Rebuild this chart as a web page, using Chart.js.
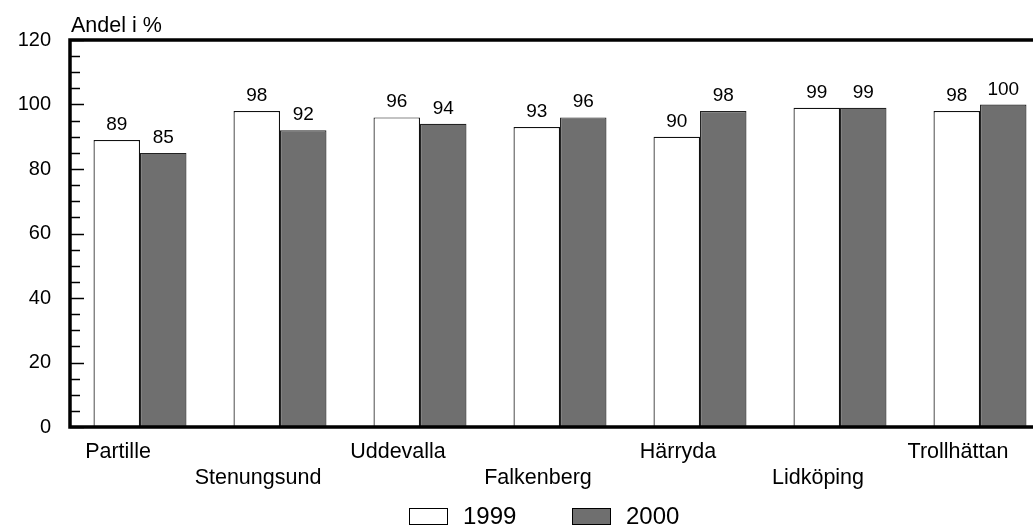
<!DOCTYPE html>
<html>
<head>
<meta charset="utf-8">
<script src="https://cdn.jsdelivr.net/npm/chart.js@4"></script>
<style>
  html, body { margin: 0; padding: 0; background: #fff; overflow: hidden; }
  #wrap { width: 1060px; height: 526px; }
</style>
</head>
<body>
<div id="wrap"><canvas id="c" width="1060" height="526"></canvas></div>
<script>
// Kommuner och andel (%) för respektive år
const kommuner = ['Partille', 'Stenungsund', 'Uddevalla', 'Falkenberg', 'Härryda', 'Lidköping', 'Trollhättan'];
const andel1999 = [89, 98, 96, 93, 90, 99, 98];
const andel2000 = [85, 92, 94, 96, 98, 99, 100];
const yTicks = [0, 20, 40, 60, 80, 100, 120];
const yTitel = 'Andel i %';

const FONT = '"Liberation Sans", Arial, sans-serif';

// Alternate category names between two rows
const xLabels = kommuner.map((k, i) => (i % 2 === 0 ? [k, ''] : ['', k]));

// Frame, inward tick marks, axis title and value labels
const decor = {
  id: 'decor',
  afterDatasetsDraw(chart) {
    const { ctx, chartArea: a, scales: { y } } = chart;
    ctx.save();
    // value labels above each bar
    ctx.fillStyle = '#000';
    ctx.font = '19px ' + FONT;
    ctx.textAlign = 'center';
    ctx.textBaseline = 'alphabetic';
    chart.data.datasets.forEach((ds, di) => {
      chart.getDatasetMeta(di).data.forEach((bar, i) => {
        ctx.fillText(String(ds.data[i]), bar.x, bar.y - 10);
      });
    });
    // inward ticks on the value axis
    ctx.strokeStyle = '#000';
    ctx.lineWidth = 1.5;
    for (let v = y.min; v <= y.max; v += 5) {
      const py = Math.round(y.getPixelForValue(v)) + 0.5;
      const len = v % 20 === 0 ? 14 : 10;
      ctx.beginPath();
      ctx.moveTo(a.left, py);
      ctx.lineTo(a.left + len, py);
      ctx.stroke();
    }
    // heavy frame
    ctx.lineWidth = 3.5;
    ctx.lineCap = 'square';
    ctx.beginPath();
    ctx.moveTo(a.right, a.top);
    ctx.lineTo(a.left, a.top);
    ctx.lineTo(a.left, a.bottom);
    ctx.lineTo(a.right, a.bottom);
    ctx.stroke();
    // axis title
    ctx.font = '21.5px ' + FONT;
    ctx.textAlign = 'left';
    ctx.fillText(yTitel, a.left + 1, a.top - 8);
    // legend
    ctx.font = '24px ' + FONT;
    ctx.textBaseline = 'middle';
    const cy = 516;
    let x = 409;
    chart.data.datasets.forEach((ds) => {
      ctx.fillStyle = ds.backgroundColor;
      ctx.fillRect(x, cy - 8, 39, 17);
      ctx.lineWidth = 1;
      ctx.strokeStyle = '#000';
      ctx.strokeRect(x + 0.5, cy - 7.5, 38, 16);
      ctx.fillStyle = '#000';
      ctx.fillText(ds.label, x + 54, cy + 1);
      x += 163;
    });
    ctx.restore();
  }
};

new Chart(document.getElementById('c'), {
  type: 'bar',
  data: {
    labels: xLabels,
    datasets: [
      { label: '1999', data: andel1999, backgroundColor: '#ffffff', borderColor: '#111', borderWidth: 1.2 },
      { label: '2000', data: andel2000, backgroundColor: '#6f6f6f', borderColor: '#222', borderWidth: 1.2 }
    ]
  },
  options: {
    responsive: false,
    animation: false,
    layout: { padding: { top: 40, right: 10, left: 0, bottom: 0 } },
    plugins: { legend: { display: false }, tooltip: { enabled: false } },
    datasets: { bar: { categoryPercentage: 0.664, barPercentage: 1 } },
    scales: {
      x: {
        grid: { display: false, drawTicks: false },
        border: { display: false },
        ticks: {
          color: '#000', font: { family: FONT, size: 21.5, lineHeight: 1.22 },
          padding: 12, labelOffset: -22, maxRotation: 0, autoSkip: false
        },
        afterFit(s) { s.height = 99; }
      },
      y: {
        min: 0, max: 120,
        afterBuildTicks(s) { s.ticks = yTicks.map(v => ({ value: v })); },
        grid: { display: false, drawTicks: false },
        border: { display: false },
        ticks: { color: '#000', font: { family: FONT, size: 20 }, padding: 19 },
        afterFit(s) { s.width = 70; }
      }
    }
  },
  plugins: [decor]
});
</script>
</body>
</html>
